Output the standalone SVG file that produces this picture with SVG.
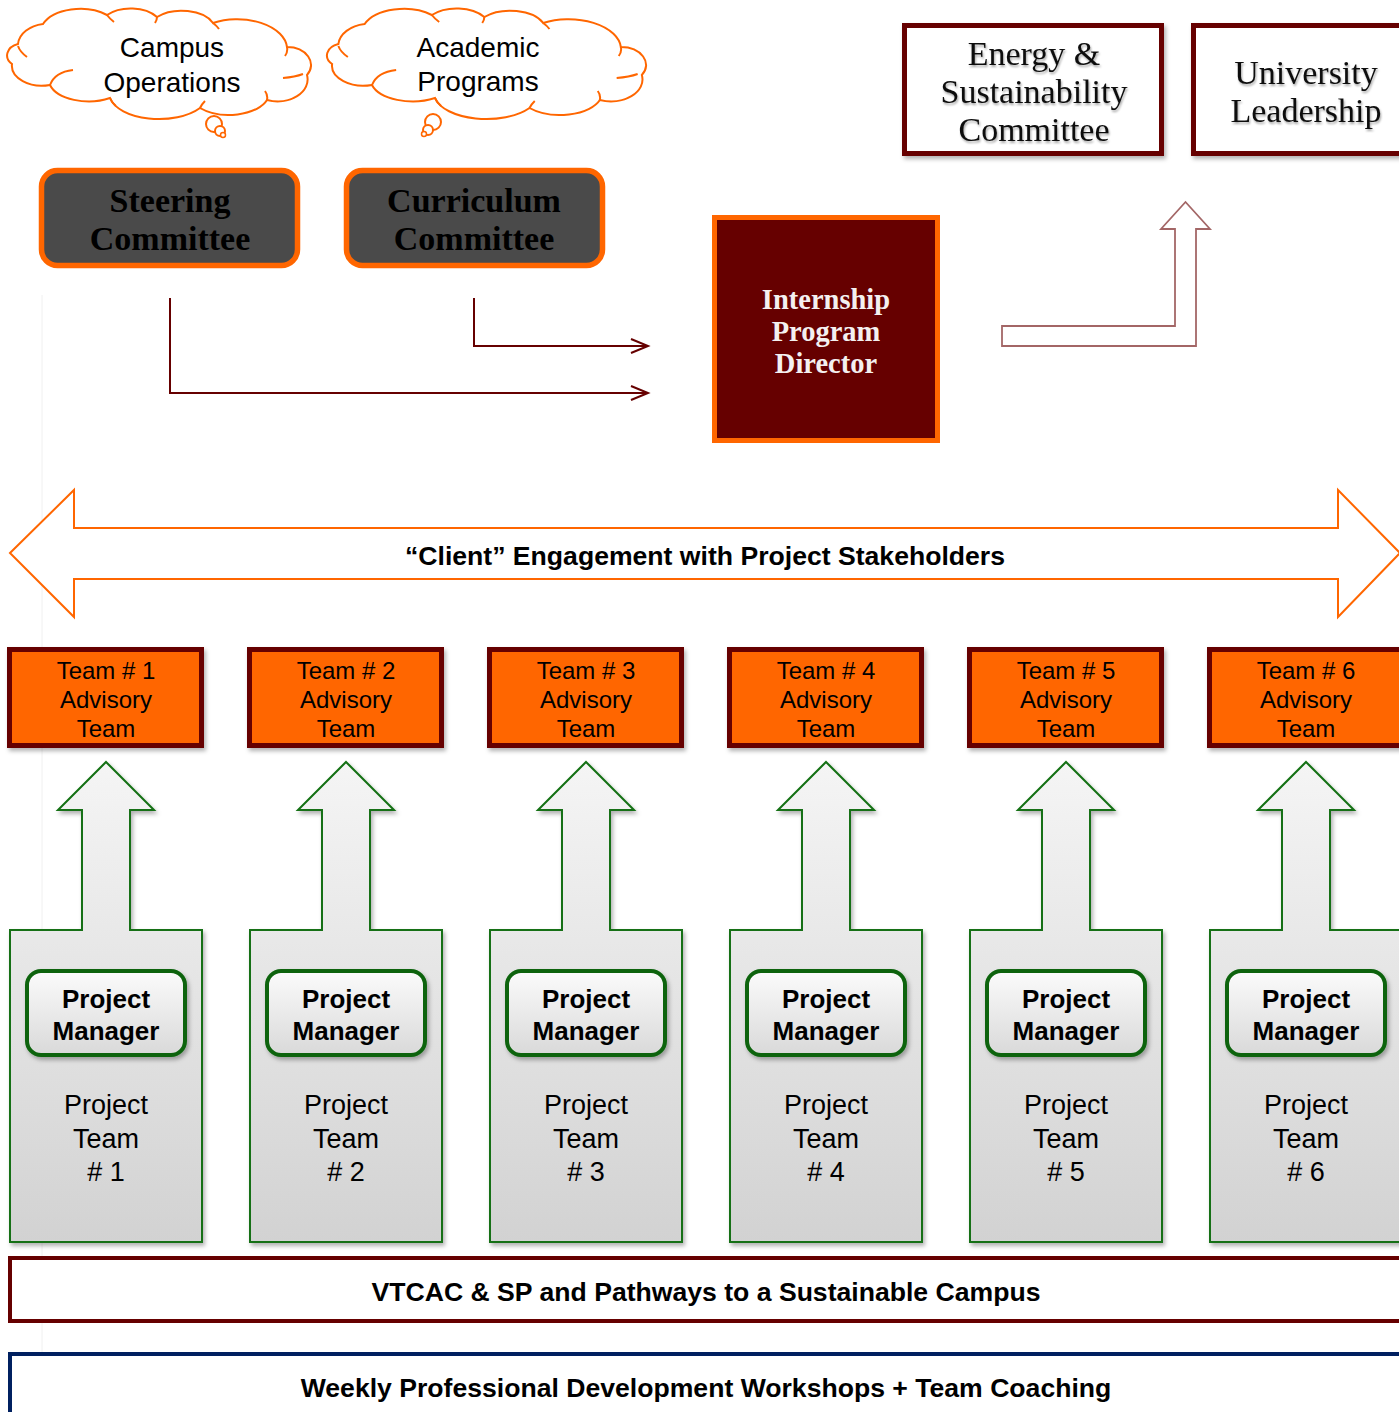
<svg xmlns="http://www.w3.org/2000/svg" xmlns:xlink="http://www.w3.org/1999/xlink" width="1399" height="1412" viewBox="0 0 1399 1412">
<style>
.sans{font-family:"Liberation Sans",Arial,sans-serif}
.serif{font-family:"Liberation Serif","Times New Roman",serif}
.cloudtxt{font-size:28px;fill:#000;text-anchor:middle}
.committee{font-size:34px;font-weight:bold;fill:#000;text-anchor:middle}
.govtxt{font-size:34px;fill:#111;text-anchor:middle}
.adv rect{fill:#ff6600;stroke:#660000;stroke-width:5}
.adv text{font-size:24px;fill:#000;text-anchor:middle}
.blk{fill:url(#gBlk);stroke:#137013;stroke-width:2}
.pm{fill:url(#gPm);stroke:#0b640b;stroke-width:4}
.pmtxt{font-size:26px;font-weight:bold;fill:#000;text-anchor:middle}
.pttxt{font-size:27px;fill:#000;text-anchor:middle}
.bar{font-size:26.6px;font-weight:bold;fill:#000;text-anchor:middle}
.conn{fill:none;stroke:#660000;stroke-width:2}
.cloud{fill:#fff;stroke:#ff6600;stroke-width:2}
.curl{fill:none;stroke:#ff6600;stroke-width:2}
</style>
<defs>
<linearGradient id="gBlk" x1="0" y1="0" x2="0" y2="1">
<stop offset="0" stop-color="#f5f5f5"/>
<stop offset="1" stop-color="#d2d2d2"/>
</linearGradient>
<linearGradient id="gPm" x1="0" y1="0" x2="0" y2="1">
<stop offset="0" stop-color="#fbfbfb"/>
<stop offset="1" stop-color="#d9d9d9"/>
</linearGradient>
<filter id="sh" x="-10%" y="-10%" width="130%" height="130%">
<feDropShadow dx="2" dy="3" stdDeviation="2" flood-color="#000" flood-opacity="0.3"/>
</filter>
<filter id="tsh" x="-10%" y="-20%" width="130%" height="150%">
<feDropShadow dx="1" dy="2" stdDeviation="1.3" flood-color="#000" flood-opacity="0.35"/>
</filter>
<marker id="open" markerUnits="userSpaceOnUse" markerWidth="22" markerHeight="18" refX="19" refY="9" orient="auto">
<path d="M2,2 L19,9 L2,16" fill="none" stroke="#660000" stroke-width="2"/>
</marker>
<g id="cloudShape">
<path class="cloud" vector-effect="non-scaling-stroke" d="M 18 44 A 30 22 0 0 1 43 24 A 40 24 0 0 1 107 15 A 32 20 0 0 1 157 17 A 34 20 0 0 1 213 23 A 50 30 0 0 1 287 47 A 24 18 0 0 1 307 75 A 30 22 0 0 1 267 100 A 40 22 0 0 1 200 108 A 50 26 0 0 1 110 98 A 40 22 0 0 1 50 85 A 30 20 0 0 1 12 64 A 16 12 0 0 1 18 44 Z"/>
<path class="curl" vector-effect="non-scaling-stroke" d="M 27 57 Q 20 52 18 46 M 73 70 Q 55 72 50 85 M 107 15 Q 110 19 114 22 M 157 17 Q 157 20 155 23 M 213 23 Q 217 26 219 29 M 287 47 Q 288 52 285 56 M 283 78 Q 295 77 303 74 M 267 100 Q 268 95 265 91 M 200 108 Q 202 104 205 101 M 110 98 Q 112 103 116 106"/>
</g>
</defs>

<rect width="1399" height="1412" fill="#fff"/>
<path d="M42 295 V1370 H1399" fill="none" stroke="#f0f0f0" stroke-width="1"/>

<g id="campus-operations">
<use xlink:href="#cloudShape" href="#cloudShape"/>
<circle cx="214" cy="124" r="8" fill="#fff" stroke="#ff6600" stroke-width="2"/>
<circle cx="220" cy="131" r="5" fill="#fff" stroke="#ff6600" stroke-width="2"/>
<circle cx="223" cy="135" r="2.5" fill="#fff" stroke="#ff6600" stroke-width="1.5"/>
<text class="sans cloudtxt" x="172" y="57">Campus</text>
<text class="sans cloudtxt" x="172" y="92">Operations</text>
</g>

<g id="academic-programs">
<use xlink:href="#cloudShape" href="#cloudShape" transform="translate(330,0) scale(1.05,1) translate(-10,0)"/>
<circle cx="433" cy="122" r="8" fill="#fff" stroke="#ff6600" stroke-width="2"/>
<circle cx="428" cy="130" r="5" fill="#fff" stroke="#ff6600" stroke-width="2"/>
<circle cx="424" cy="134" r="2.5" fill="#fff" stroke="#ff6600" stroke-width="1.5"/>
<text class="sans cloudtxt" x="478" y="57">Academic</text>
<text class="sans cloudtxt" x="478" y="91">Programs</text>
</g>

<g id="steering-committee">
<rect x="41.5" y="170.5" width="256" height="95" rx="16" fill="#4a4a4a" stroke="#ff6600" stroke-width="5.5"/>
<text class="serif committee" x="170" y="212">Steering</text>
<text class="serif committee" x="170" y="250">Committee</text>
</g>

<g id="curriculum-committee">
<rect x="346.5" y="170.5" width="256" height="95" rx="16" fill="#4a4a4a" stroke="#ff6600" stroke-width="5.5"/>
<text class="serif committee" x="474" y="212">Curriculum</text>
<text class="serif committee" x="474" y="250">Committee</text>
</g>

<g id="internship-program-director">
<rect x="714.5" y="217.5" width="223" height="223" fill="#660000" stroke="#ff6600" stroke-width="5"/>
<text class="serif" x="826" y="309" font-size="28.5" font-weight="bold" fill="#f4f0f0" text-anchor="middle">Internship</text>
<text class="serif" x="826" y="341" font-size="28.5" font-weight="bold" fill="#f4f0f0" text-anchor="middle">Program</text>
<text class="serif" x="826" y="373" font-size="28.5" font-weight="bold" fill="#f4f0f0" text-anchor="middle">Director</text>
</g>

<g id="energy-sustainability-committee">
<rect x="904.5" y="25.5" width="257" height="128" fill="#fff" stroke="#660000" stroke-width="5" filter="url(#sh)"/>
<g filter="url(#tsh)">
<text class="serif govtxt" x="1034" y="65">Energy &amp;</text>
<text class="serif govtxt" x="1034" y="103">Sustainability</text>
<text class="serif govtxt" x="1034" y="141">Committee</text>
</g>
</g>

<g id="university-leadership">
<rect x="1193.5" y="25.5" width="215" height="128" fill="#fff" stroke="#660000" stroke-width="5" filter="url(#sh)"/>
<g filter="url(#tsh)">
<text class="serif govtxt" x="1306" y="84">University</text>
<text class="serif govtxt" x="1306" y="122">Leadership</text>
</g>
</g>

<g id="connectors">
<polyline class="conn" points="170,298 170,393 648,393" marker-end="url(#open)"/>
<polyline class="conn" points="474,298 474,346 648,346" marker-end="url(#open)"/>
<polygon points="1002,326 1175,326 1175,229 1161,229 1185.5,202 1210,229 1196,229 1196,346 1002,346" fill="#fff" stroke="#660000" stroke-opacity="0.6" stroke-width="1.8"/>
</g>

<g id="client-engagement">
<polygon points="10,553 74,490 74,528 1338,528 1338,490 1400,553 1338,617 1338,579 74,579 74,617" fill="#fff" stroke="#ff6600" stroke-width="2"/>
<text class="sans" x="705" y="565" font-size="26.6" font-weight="bold" fill="#000" text-anchor="middle">“Client” Engagement with Project Stakeholders</text>
</g>

<g id="team1-advisory" class="adv"><rect x="9.5" y="649.5" width="192" height="96" filter="url(#sh)"/><text class="sans" x="106" y="679">Team # 1</text><text class="sans" x="106" y="708">Advisory</text><text class="sans" x="106" y="737">Team</text></g>
<g id="team2-advisory" class="adv"><rect x="249.5" y="649.5" width="192" height="96" filter="url(#sh)"/><text class="sans" x="346" y="679">Team # 2</text><text class="sans" x="346" y="708">Advisory</text><text class="sans" x="346" y="737">Team</text></g>
<g id="team3-advisory" class="adv"><rect x="489.5" y="649.5" width="192" height="96" filter="url(#sh)"/><text class="sans" x="586" y="679">Team # 3</text><text class="sans" x="586" y="708">Advisory</text><text class="sans" x="586" y="737">Team</text></g>
<g id="team4-advisory" class="adv"><rect x="729.5" y="649.5" width="192" height="96" filter="url(#sh)"/><text class="sans" x="826" y="679">Team # 4</text><text class="sans" x="826" y="708">Advisory</text><text class="sans" x="826" y="737">Team</text></g>
<g id="team5-advisory" class="adv"><rect x="969.5" y="649.5" width="192" height="96" filter="url(#sh)"/><text class="sans" x="1066" y="679">Team # 5</text><text class="sans" x="1066" y="708">Advisory</text><text class="sans" x="1066" y="737">Team</text></g>
<g id="team6-advisory" class="adv"><rect x="1209.5" y="649.5" width="192" height="96" filter="url(#sh)"/><text class="sans" x="1306" y="679">Team # 6</text><text class="sans" x="1306" y="708">Advisory</text><text class="sans" x="1306" y="737">Team</text></g>

<g id="project-team-1">
<polygon class="blk" filter="url(#sh)" points="106,762 154,810 130,810 130,930 202,930 202,1242 10,1242 10,930 82,930 82,810 58,810"/>
<rect class="pm" x="27" y="971" width="158" height="84" rx="14" filter="url(#sh)"/>
<text class="sans pmtxt" x="106" y="1008">Project</text><text class="sans pmtxt" x="106" y="1040">Manager</text>
<text class="sans pttxt" x="106" y="1114">Project</text><text class="sans pttxt" x="106" y="1148">Team</text><text class="sans pttxt" x="106" y="1181"># 1</text>
</g>
<g id="project-team-2">
<polygon class="blk" filter="url(#sh)" points="346,762 394,810 370,810 370,930 442,930 442,1242 250,1242 250,930 322,930 322,810 298,810"/>
<rect class="pm" x="267" y="971" width="158" height="84" rx="14" filter="url(#sh)"/>
<text class="sans pmtxt" x="346" y="1008">Project</text><text class="sans pmtxt" x="346" y="1040">Manager</text>
<text class="sans pttxt" x="346" y="1114">Project</text><text class="sans pttxt" x="346" y="1148">Team</text><text class="sans pttxt" x="346" y="1181"># 2</text>
</g>
<g id="project-team-3">
<polygon class="blk" filter="url(#sh)" points="586,762 634,810 610,810 610,930 682,930 682,1242 490,1242 490,930 562,930 562,810 538,810"/>
<rect class="pm" x="507" y="971" width="158" height="84" rx="14" filter="url(#sh)"/>
<text class="sans pmtxt" x="586" y="1008">Project</text><text class="sans pmtxt" x="586" y="1040">Manager</text>
<text class="sans pttxt" x="586" y="1114">Project</text><text class="sans pttxt" x="586" y="1148">Team</text><text class="sans pttxt" x="586" y="1181"># 3</text>
</g>
<g id="project-team-4">
<polygon class="blk" filter="url(#sh)" points="826,762 874,810 850,810 850,930 922,930 922,1242 730,1242 730,930 802,930 802,810 778,810"/>
<rect class="pm" x="747" y="971" width="158" height="84" rx="14" filter="url(#sh)"/>
<text class="sans pmtxt" x="826" y="1008">Project</text><text class="sans pmtxt" x="826" y="1040">Manager</text>
<text class="sans pttxt" x="826" y="1114">Project</text><text class="sans pttxt" x="826" y="1148">Team</text><text class="sans pttxt" x="826" y="1181"># 4</text>
</g>
<g id="project-team-5">
<polygon class="blk" filter="url(#sh)" points="1066,762 1114,810 1090,810 1090,930 1162,930 1162,1242 970,1242 970,930 1042,930 1042,810 1018,810"/>
<rect class="pm" x="987" y="971" width="158" height="84" rx="14" filter="url(#sh)"/>
<text class="sans pmtxt" x="1066" y="1008">Project</text><text class="sans pmtxt" x="1066" y="1040">Manager</text>
<text class="sans pttxt" x="1066" y="1114">Project</text><text class="sans pttxt" x="1066" y="1148">Team</text><text class="sans pttxt" x="1066" y="1181"># 5</text>
</g>
<g id="project-team-6">
<polygon class="blk" filter="url(#sh)" points="1306,762 1354,810 1330,810 1330,930 1402,930 1402,1242 1210,1242 1210,930 1282,930 1282,810 1258,810"/>
<rect class="pm" x="1227" y="971" width="158" height="84" rx="14" filter="url(#sh)"/>
<text class="sans pmtxt" x="1306" y="1008">Project</text><text class="sans pmtxt" x="1306" y="1040">Manager</text>
<text class="sans pttxt" x="1306" y="1114">Project</text><text class="sans pttxt" x="1306" y="1148">Team</text><text class="sans pttxt" x="1306" y="1181"># 6</text>
</g>

<g id="vtcac-bar">
<rect x="10" y="1258" width="1400" height="63" fill="#fff" stroke="#660000" stroke-width="4"/>
<text class="sans bar" x="706" y="1301">VTCAC &amp; SP and Pathways to a Sustainable Campus</text>
</g>

<g id="weekly-bar">
<rect x="10" y="1354" width="1400" height="70" fill="#fff" stroke="#002060" stroke-width="4"/>
<text class="sans bar" x="706" y="1397">Weekly Professional Development Workshops + Team Coaching</text>
</g>
</svg>
